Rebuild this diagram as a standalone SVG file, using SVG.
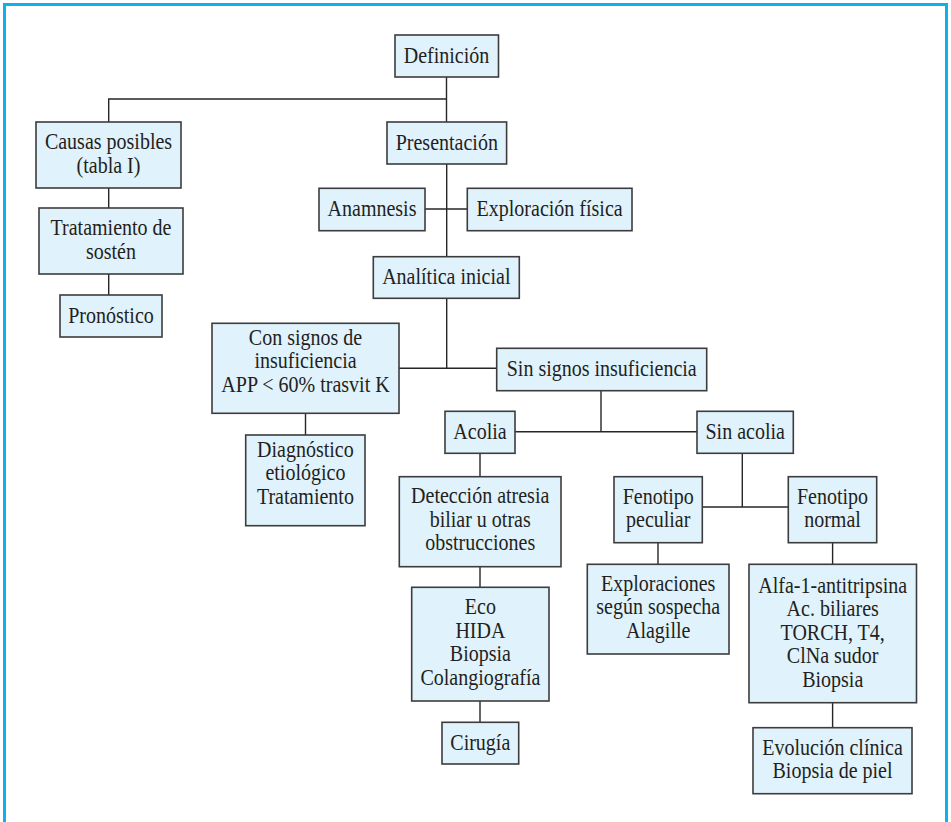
<svg xmlns="http://www.w3.org/2000/svg" width="951" height="822" viewBox="0 0 951 822">
<style>
.box{fill:#E0F2FC;stroke:#3C3C3C;stroke-width:1.6}
.t{font-family:'Liberation Serif','Times New Roman',serif;font-size:23px;fill:#231F20;text-anchor:middle}
.c{fill:none;stroke:#262626;stroke-width:1.4}
</style>
<rect x="0" y="0" width="951" height="822" fill="#FFFFFF"/>
<path d="M4.5,830 V4.5 H946.5 V830" fill="none" stroke="#0DB1EE" stroke-width="3"/>
<g id="connectors" class="c">
<path d="M446.5,77 V122"/>
<path d="M446,99 H108.7 V122"/>
<path d="M108.7,188 V208"/>
<path d="M108.7,274 V295"/>
<path d="M446.7,164 V257"/>
<path d="M425,209 H467"/>
<path d="M446.7,298 V368.3"/>
<path d="M399,368.3 H497"/>
<path d="M305.5,413 V435"/>
<path d="M601,391 V431.7"/>
<path d="M515,431.7 H697"/>
<path d="M480,453 V477"/>
<path d="M480,567 V587"/>
<path d="M480,701 V722"/>
<path d="M742.3,453 V507"/>
<path d="M702,507 H788"/>
<path d="M658,543 V564"/>
<path d="M832.6,543 V564"/>
<path d="M832.6,703 V728"/>
</g>
<g id="n-definicion"><rect class="box" x="395" y="35" width="103.5" height="42"/><g class="t" transform="translate(446.5,0) scale(0.87,1)"><text x="0" y="63">Definición</text></g></g>
<g id="n-causas"><rect class="box" x="36" y="122" width="145" height="66"/><g class="t" transform="translate(108.5,0) scale(0.87,1)"><text x="0" y="149.5">Causas posibles</text><text x="0" y="173">(tabla I)</text></g></g>
<g id="n-tratamiento"><rect class="box" x="39" y="208" width="144" height="66"/><g class="t" transform="translate(111,0) scale(0.87,1)"><text x="0" y="235.5">Tratamiento de</text><text x="0" y="259">sostén</text></g></g>
<g id="n-pronostico"><rect class="box" x="60" y="295" width="102" height="42"/><g class="t" transform="translate(111,0) scale(0.87,1)"><text x="0" y="323">Pronóstico</text></g></g>
<g id="n-presentacion"><rect class="box" x="387" y="122" width="119.6" height="42"/><g class="t" transform="translate(446.8,0) scale(0.87,1)"><text x="0" y="150">Presentación</text></g></g>
<g id="n-anamnesis"><rect class="box" x="319" y="188.3" width="106" height="42.4"/><g class="t" transform="translate(372,0) scale(0.87,1)"><text x="0" y="216.5">Anamnesis</text></g></g>
<g id="n-exploracion"><rect class="box" x="467.3" y="188.3" width="164.7" height="42.4"/><g class="t" transform="translate(549.6,0) scale(0.87,1)"><text x="0" y="216.5">Exploración física</text></g></g>
<g id="n-analitica"><rect class="box" x="373.3" y="256.7" width="146" height="41.6"/><g class="t" transform="translate(446.3,0) scale(0.87,1)"><text x="0" y="284.5">Analítica inicial</text></g></g>
<g id="n-consignos"><rect class="box" x="212" y="323.3" width="187" height="90"/><g class="t" transform="translate(305.5,0) scale(0.87,1)"><text x="0" y="345">Con signos de</text><text x="0" y="368.5">insuficiencia</text><text x="0" y="392">APP &lt; 60% trasvit K</text></g></g>
<g id="n-sinsignos"><rect class="box" x="496.7" y="348.3" width="210" height="42.4"/><g class="t" transform="translate(601.7,0) scale(0.87,1)"><text x="0" y="376.5">Sin signos insuficiencia</text></g></g>
<g id="n-diagnostico"><rect class="box" x="245.7" y="435" width="119.3" height="90.7"/><g class="t" transform="translate(305.4,0) scale(0.87,1)"><text x="0" y="457">Diagnóstico</text><text x="0" y="480.5">etiológico</text><text x="0" y="504">Tratamiento</text></g></g>
<g id="n-acolia"><rect class="box" x="445" y="411.3" width="70" height="42"/><g class="t" transform="translate(480,0) scale(0.87,1)"><text x="0" y="439.3">Acolia</text></g></g>
<g id="n-sinacolia"><rect class="box" x="697" y="411.3" width="96.3" height="42"/><g class="t" transform="translate(745.2,0) scale(0.87,1)"><text x="0" y="439.3">Sin acolia</text></g></g>
<g id="n-deteccion"><rect class="box" x="399.3" y="476.7" width="161.7" height="90"/><g class="t" transform="translate(480.2,0) scale(0.87,1)"><text x="0" y="503.3">Detección atresia</text><text x="0" y="526.8">biliar u otras</text><text x="0" y="550.3">obstrucciones</text></g></g>
<g id="n-fenpeculiar"><rect class="box" x="614" y="476.7" width="88.3" height="66"/><g class="t" transform="translate(658.2,0) scale(0.87,1)"><text x="0" y="504">Fenotipo</text><text x="0" y="527.5">peculiar</text></g></g>
<g id="n-fennormal"><rect class="box" x="788.3" y="476.7" width="88.4" height="66"/><g class="t" transform="translate(832.5,0) scale(0.87,1)"><text x="0" y="504">Fenotipo</text><text x="0" y="527.5">normal</text></g></g>
<g id="n-eco"><rect class="box" x="411.7" y="587.3" width="137.3" height="113.7"/><g class="t" transform="translate(480.4,0) scale(0.87,1)"><text x="0" y="614.5">Eco</text><text x="0" y="638">HIDA</text><text x="0" y="661.5">Biopsia</text><text x="0" y="685">Colangiografía</text></g></g>
<g id="n-exploraciones"><rect class="box" x="587.3" y="564.3" width="141.7" height="89.7"/><g class="t" transform="translate(658.2,0) scale(0.87,1)"><text x="0" y="590.8">Exploraciones</text><text x="0" y="614.3">según sospecha</text><text x="0" y="637.8">Alagille</text></g></g>
<g id="n-alfa"><rect class="box" x="749" y="564.3" width="167.5" height="138.4"/><g class="t" transform="translate(832.7,0) scale(0.87,1)"><text x="0" y="592.6">Alfa-1-antitripsina</text><text x="0" y="616.1">Ac. biliares</text><text x="0" y="639.6">TORCH, T4,</text><text x="0" y="663.1">ClNa sudor</text><text x="0" y="686.6">Biopsia</text></g></g>
<g id="n-cirugia"><rect class="box" x="442" y="722.3" width="76.7" height="41.7"/><g class="t" transform="translate(480.3,0) scale(0.87,1)"><text x="0" y="750.2">Cirugía</text></g></g>
<g id="n-evolucion"><rect class="box" x="753" y="727.7" width="159" height="66"/><g class="t" transform="translate(832.5,0) scale(0.87,1)"><text x="0" y="755">Evolución clínica</text><text x="0" y="778.5">Biopsia de piel</text></g></g>
</svg>
